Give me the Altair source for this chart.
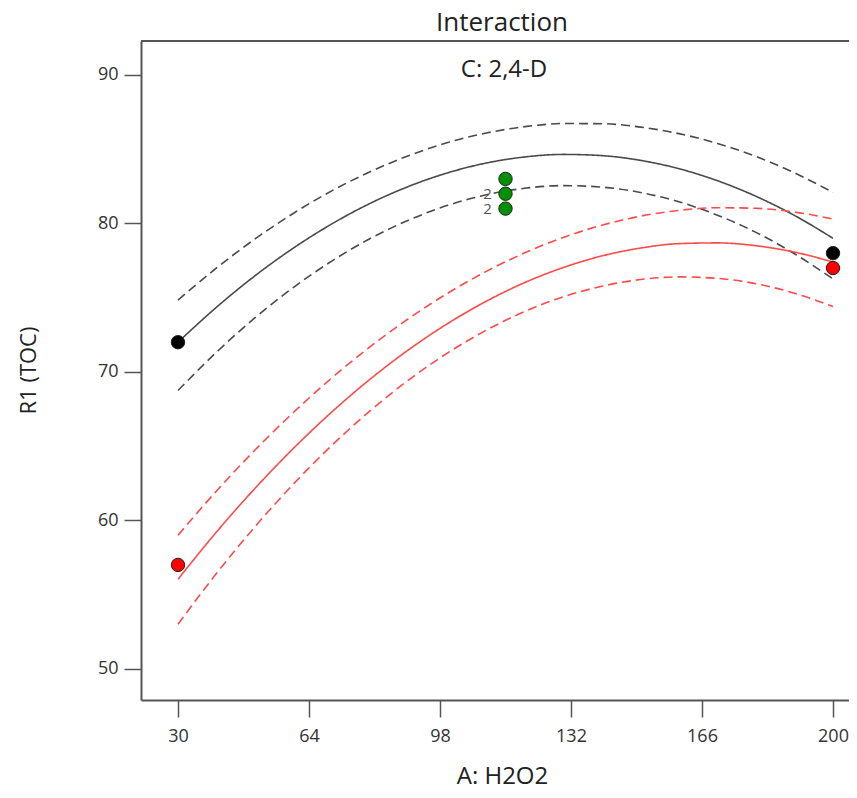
import altair as alt
import pandas as pd

# ---- data ----
x_vals = [30, 40, 50, 60, 70, 80, 90, 100, 110, 120, 130, 140, 150, 160, 170, 180, 190, 200]

black_mid = [72.0, 74.36, 76.48, 78.35, 79.98, 81.37, 82.51, 83.41, 84.07, 84.48, 84.65, 84.57, 84.25, 83.69, 82.88, 81.83, 80.54, 79.0]
black_hi = [74.84, 77.0, 78.96, 80.69, 82.21, 83.5, 84.58, 85.45, 86.09, 86.52, 86.73, 86.72, 86.49, 86.05, 85.39, 84.51, 83.41, 82.09]
black_lo = [68.75, 71.33, 73.65, 75.7, 77.48, 79.0, 80.24, 81.22, 81.93, 82.37, 82.55, 82.45, 82.09, 81.46, 80.56, 79.4, 77.96, 76.26]

red_mid = [56.03, 59.22, 62.16, 64.86, 67.32, 69.54, 71.52, 73.26, 74.76, 76.02, 77.03, 77.81, 78.34, 78.64, 78.69, 78.5, 78.07, 77.4]
red_hi = [59.0, 61.98, 64.74, 67.28, 69.61, 71.72, 73.62, 75.3, 76.77, 78.02, 79.06, 79.88, 80.49, 80.88, 81.06, 81.02, 80.77, 80.3]
red_lo = [53.0, 56.43, 59.58, 62.46, 65.07, 67.41, 69.48, 71.28, 72.81, 74.07, 75.06, 75.77, 76.22, 76.4, 76.3, 75.94, 75.3, 74.4]

pt_x = [30, 30, 200, 200, 115, 115, 115]
pt_y = [72, 57, 78, 77, 83, 82, 81]
pt_group = ["black", "red", "black", "red", "green", "green", "green"]

lbl_x = [115, 115]
lbl_y = [82, 81]
lbl_text = ["2", "2"]

x_ticks = [30, 64, 98, 132, 166, 200]
y_ticks = [50, 60, 70, 80, 90]

title_text = "Interaction"
sub_text = "C: 2,4-D"
x_title = "A: H2O2"
y_title = "R1 (TOC)"

# ---- build tables ----
series = [
    ("bm", "black", "solid", black_mid),
    ("bh", "black", "dashed", black_hi),
    ("bl", "black", "dashed", black_lo),
    ("rm", "red", "solid", red_mid),
    ("rh", "red", "dashed", red_hi),
    ("rl", "red", "dashed", red_lo),
]
rows = []
for name, grp, sty, vals in series:
    for xv, yv in zip(x_vals, vals):
        rows.append({"name": name, "grp": grp, "style": sty, "x": xv, "y": yv})
lines_df = pd.DataFrame(rows)
pts_df = pd.DataFrame({"x": pt_x, "y": pt_y, "grp": pt_group})
lbl_df = pd.DataFrame({"x": lbl_x, "y": lbl_y, "t": lbl_text})

W, H = 708, 659
FONT = "Open Sans"

xs = alt.Scale(domain=[20.4, 204.15], nice=False, zero=False)
ys = alt.Scale(domain=[47.9, 92.29], nice=False, zero=False)

x_axis = alt.Axis(values=x_ticks, grid=False, tickSize=17, labelPadding=10,
                  labelFontSize=18, labelColor="#333333", labelFont=FONT,
                  domainColor="#555555", domainWidth=2, tickColor="#555555", tickWidth=1.5,
                  title=x_title, titleFont=FONT, titleFontSize=24, titleFontWeight="normal",
                  titleColor="#222222", titleX=361, titleY=76, titleBaseline="middle",
                  titleAlign="center")
y_axis = alt.Axis(values=y_ticks, grid=False, tickSize=17, labelPadding=6,
                  labelFontSize=18, labelColor="#333333", labelFont=FONT,
                  domainColor="#555555", domainWidth=2, tickColor="#555555", tickWidth=1.5,
                  title=y_title, titleFont=FONT, titleFontSize=22, titleFontWeight="normal",
                  titleColor="#222222", titleX=-113, titleY=329, titleAngle=-90,
                  titleBaseline="middle", titleAlign="center")

lines = alt.Chart(lines_df).mark_line(strokeWidth=1.6, interpolate="monotone", clip=True).encode(
    x=alt.X("x:Q", scale=xs, axis=x_axis),
    y=alt.Y("y:Q", scale=ys, axis=y_axis),
    color=alt.Color("grp:N", scale=alt.Scale(domain=["black", "red"], range=["#4a4a4a", "#ff4a4a"]), legend=None),
    strokeDash=alt.StrokeDash("style:N", scale=alt.Scale(domain=["solid", "dashed"], range=[[1, 0], [9, 5]]), legend=None),
    detail="name:N",
)

points = alt.Chart(pts_df).mark_point(filled=True, size=180, opacity=1, stroke="#222222", strokeWidth=1).encode(
    x=alt.X("x:Q", scale=xs),
    y=alt.Y("y:Q", scale=ys),
    fill=alt.Fill("grp:N", scale=alt.Scale(domain=["black", "red", "green"], range=["#000000", "#ff0000", "#009000"]), legend=None),
)

labels = alt.Chart(lbl_df).mark_text(font=FONT, fontSize=15, color="#555555", dx=-18, align="center", baseline="middle").encode(
    x=alt.X("x:Q", scale=xs),
    y=alt.Y("y:Q", scale=ys),
    text="t:N",
)

sub = alt.Chart(pd.DataFrame({"t": [sub_text]})).mark_text(font=FONT, fontSize=24, color="#222222", align="center", baseline="middle").encode(
    x=alt.value(363), y=alt.value(29), text="t:N"
)

top_border = alt.Chart(pd.DataFrame({"a": [0]})).mark_rule(color="#555555", strokeWidth=2).encode(
    x=alt.value(0), x2=alt.value(W), y=alt.value(0)
)

chart = alt.layer(top_border, lines, points, labels, sub).properties(
    width=W, height=H,
    title=alt.TitleParams(title_text, font=FONT, fontSize=26, fontWeight="normal", color="#222222",
                          anchor="middle", offset=4, dx=7),
    autosize=alt.AutoSizeParams(type="none"),
    padding={"left": 133, "top": 33, "right": 0, "bottom": 90},
).configure_view(stroke=None)

chart.save("out.html", embed_options={"renderer": "svg", "actions": False})
